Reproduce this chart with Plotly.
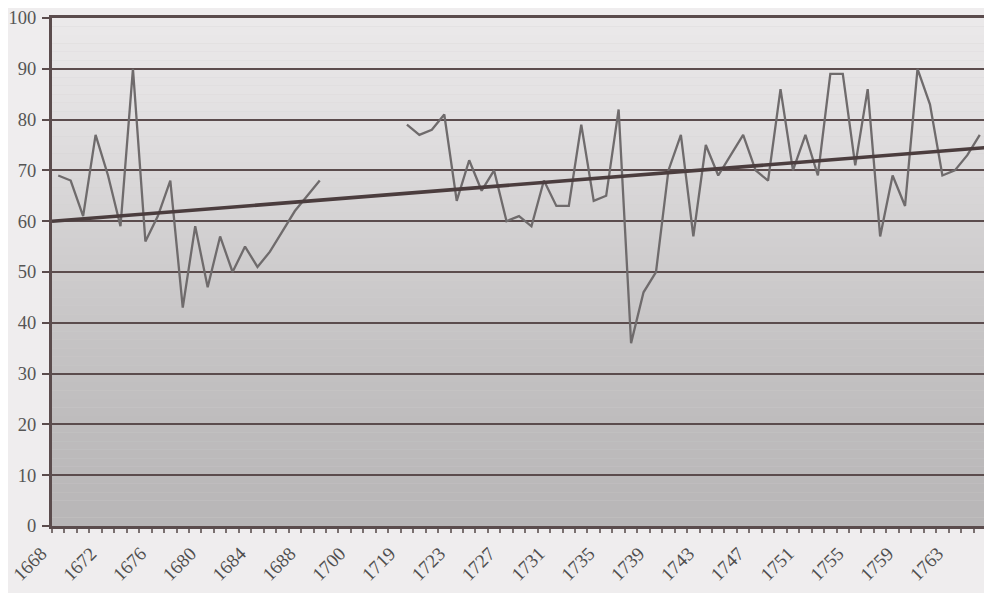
import numpy as np
import plotly.graph_objects as go

# ---- data ----
years = ([str(y) for y in range(1668, 1690)]
         + ["1690", "1691", "1700", "1716", "1717", "1718"]
         + [str(y) for y in range(1719, 1766)])

values_early = [69, 68, 61, 77, 69, 59, 90, 56, 61, 68, 43, 59, 47, 57, 50, 55,
                51, 54, 58, 62, 65, 68]
values_gap = [None, None, None, None, None, None]
values_late = [79, 77, 78, 81, 64, 72, 66, 70, 60, 61, 59, 68, 63, 63, 79, 64,
               65, 82, 36, 46, 50, 70, 77, 57, 75, 69, 73, 77, 70, 68, 86, 70,
               77, 69, 89, 89, 71, 86, 57, 69, 63, 90, 83, 69, 70, 73, 77]
values = values_early + values_gap + values_late

label_years = ["1668", "1672", "1676", "1680", "1684", "1688", "1700", "1719",
               "1723", "1727", "1731", "1735", "1739", "1743", "1747", "1751",
               "1755", "1759", "1763"]

# ---- derived ----
idx = list(range(len(years)))
tickvals = [years.index(y) for y in label_years]
valid = [(i, v) for i, v in zip(idx, values) if v is not None]
vx = np.array([p[0] for p in valid], dtype=float)
vy = np.array([p[1] for p in valid], dtype=float)
slope, intercept = np.polyfit(vx, vy, 1)
x_lo, x_hi = -0.5, len(years) - 0.5
trend_x = [x_lo, x_hi]
trend_y = [intercept + slope * x_lo, intercept + slope * x_hi]

dark = "#5b4c4d"
fig = go.Figure()
fig.add_trace(go.Scatter(x=idx, y=values, mode="lines",
                         line=dict(color="#6f6b6c", width=2.3),
                         connectgaps=False, hoverinfo="skip"))
fig.add_trace(go.Scatter(x=trend_x, y=trend_y, mode="lines",
                         line=dict(color="#4b3d3e", width=3.6),
                         hoverinfo="skip"))

# gradient background (styling)
stops_pos = [0.0, 0.2, 0.4, 0.6, 0.8, 1.0]
stops_val = [184, 190, 199, 212, 226, 235]
nb = 60
shapes = []
for k in range(nb):
    y0 = k / nb
    y1 = (k + 1) / nb
    g = int(round(np.interp((y0 + y1) / 2, stops_pos, stops_val)))
    shapes.append(dict(type="rect", xref="paper", yref="paper",
                       x0=0, x1=1, y0=y0, y1=y1, layer="below",
                       line=dict(width=0),
                       fillcolor=f"rgb({g},{g - 2},{g - 1})"))

fig.update_layout(
    width=984, height=585,
    margin=dict(l=44, r=6, t=10, b=67, pad=0, autoexpand=False),
    paper_bgcolor="#efedee",
    plot_bgcolor="#d0cecf",
    showlegend=False,
    shapes=shapes,
    font=dict(family="Liberation Serif", color="#555555"),
)
fig.update_xaxes(
    range=[x_lo, x_hi], automargin=False,
    tickmode="array", tickvals=tickvals, ticktext=label_years,
    tickangle=-45, tickfont=dict(size=19, family="Liberation Serif", color="#4f4f4f"),
    ticks="", showgrid=False, zeroline=False,
    showline=True, linecolor=dark, linewidth=3, mirror=True,
    ticklabelshift=-17, ticklabelstandoff=6, ticklabeloverflow="allow",
    minor=dict(tickmode="linear", tick0=-0.5, dtick=1, ticks="outside",
               ticklen=4, tickwidth=1.5, tickcolor="#7a7070", showgrid=False),
)
fig.update_yaxes(
    range=[0, 100], dtick=10, automargin=False,
    tickfont=dict(size=18.5, family="Liberation Serif", color="#555555"),
    ticks="outside", ticklen=7, tickwidth=2, tickcolor=dark,
    showgrid=True, gridcolor=dark, gridwidth=2,
    zeroline=False,
    showline=True, linecolor=dark, linewidth=3, mirror=True,
    ticklabelstandoff=2, ticklabeloverflow="allow",
)

fig.write_html("out.html")
